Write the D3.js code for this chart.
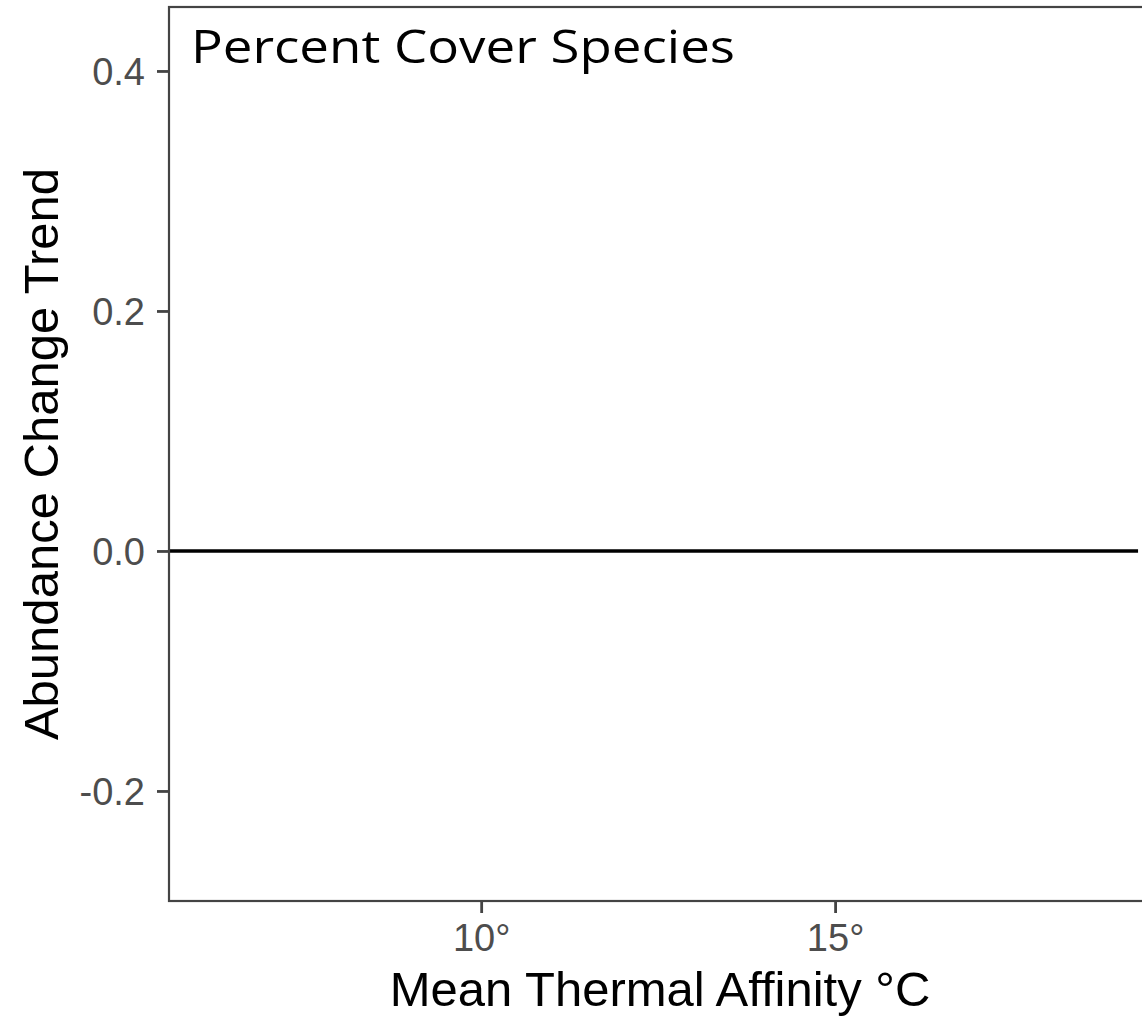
<!DOCTYPE html>
<html>
<head>
<meta charset="utf-8">
<script src="https://cdn.jsdelivr.net/npm/d3@7"></script>
<style>
  html, body { margin: 0; padding: 0; background: #fff; overflow: hidden; }
  svg { display: block; }
</style>
</head>
<body>
<svg id="chart" width="1142" height="1019"></svg>
<script>
// ---- data ----
const xTicks = [10, 15];
const yTicks = [-0.2, 0.0, 0.2, 0.4];
const xDomain = [5.59, 19.59];
const yDomain = [-0.2917, 0.4533];
const hlineValue = [0];
const hlineExtent = [5.59, 19.28];
const titleText = "Percent Cover Species";
const xLabel = "Mean Thermal Affinity °C";
const yLabel = "Abundance Change Trend";

// ---- layout ----
const panel = { left: 169, top: 7, right: 1160, bottom: 901 };

const svg = d3.select("#chart");

const x = d3.scaleLinear().domain(xDomain).range([panel.left, panel.right]);
const y = d3.scaleLinear().domain(yDomain).range([panel.bottom, panel.top]);

svg.append("rect")
  .attr("x", panel.left).attr("y", panel.top)
  .attr("width", panel.right - panel.left).attr("height", panel.bottom - panel.top)
  .attr("fill", "#fff");

// horizontal reference line at 0
svg.selectAll("line.hline").data(hlineValue).enter().append("line")
  .attr("class", "hline")
  .attr("x1", x(hlineExtent[0])).attr("x2", x(hlineExtent[1]))
  .attr("y1", d => y(d)).attr("y2", d => y(d))
  .attr("stroke", "#000").attr("stroke-width", 3.6);

// panel border
svg.append("rect")
  .attr("x", panel.left).attr("y", panel.top)
  .attr("width", panel.right - panel.left).attr("height", panel.bottom - panel.top)
  .attr("fill", "none").attr("stroke", "#444").attr("stroke-width", 2.2);

// axes
const tickFont = "'Liberation Sans', Arial, Helvetica, sans-serif";
const xAxis = d3.axisBottom(x).tickValues(xTicks).tickSize(12).tickPadding(11)
  .tickFormat(d => d + "°");
const yAxis = d3.axisLeft(y).tickValues(yTicks).tickSize(12).tickPadding(12)
  .tickFormat(d => d.toFixed(1));

const gx = svg.append("g").attr("transform", `translate(0,${panel.bottom})`).call(xAxis);
const gy = svg.append("g").attr("transform", `translate(${panel.left},0)`).call(yAxis);

[gx, gy].forEach(g => {
  g.select(".domain").remove();
  g.selectAll(".tick line").attr("stroke", "#444").attr("stroke-width", 2.8);
  g.selectAll(".tick text")
    .attr("fill", "#4d4d4d")
    .style("font-family", tickFont)
    .style("font-size", "38px");
});
gy.selectAll(".tick text").attr("dy", "0.35em");

// axis titles
svg.append("text")
  .attr("x", (panel.left + 1151) / 2)
  .attr("y", 1006)
  .attr("text-anchor", "middle")
  .style("font-family", tickFont)
  .style("font-size", "49px")
  .attr("fill", "#000")
  .text(xLabel);

svg.append("text")
  .attr("transform", `translate(58,${(panel.top + panel.bottom) / 2}) rotate(-90)`)
  .attr("text-anchor", "middle")
  .style("font-family", tickFont)
  .style("font-size", "49px")
  .attr("fill", "#000")
  .text(yLabel);

// panel title (inside top-left)
const t = svg.append("text")
  .attr("x", 191)
  .attr("y", 63)
  .style("font-family", "'Open Sans', 'Noto Sans', sans-serif")
  .style("font-size", "46px")
  .attr("fill", "#000")
  .text(titleText);
const targetW = 544;
if (t.node().getComputedTextLength() > 0) t.attr("textLength", targetW).attr("lengthAdjust", "spacingAndGlyphs");
</script>
</body>
</html>
